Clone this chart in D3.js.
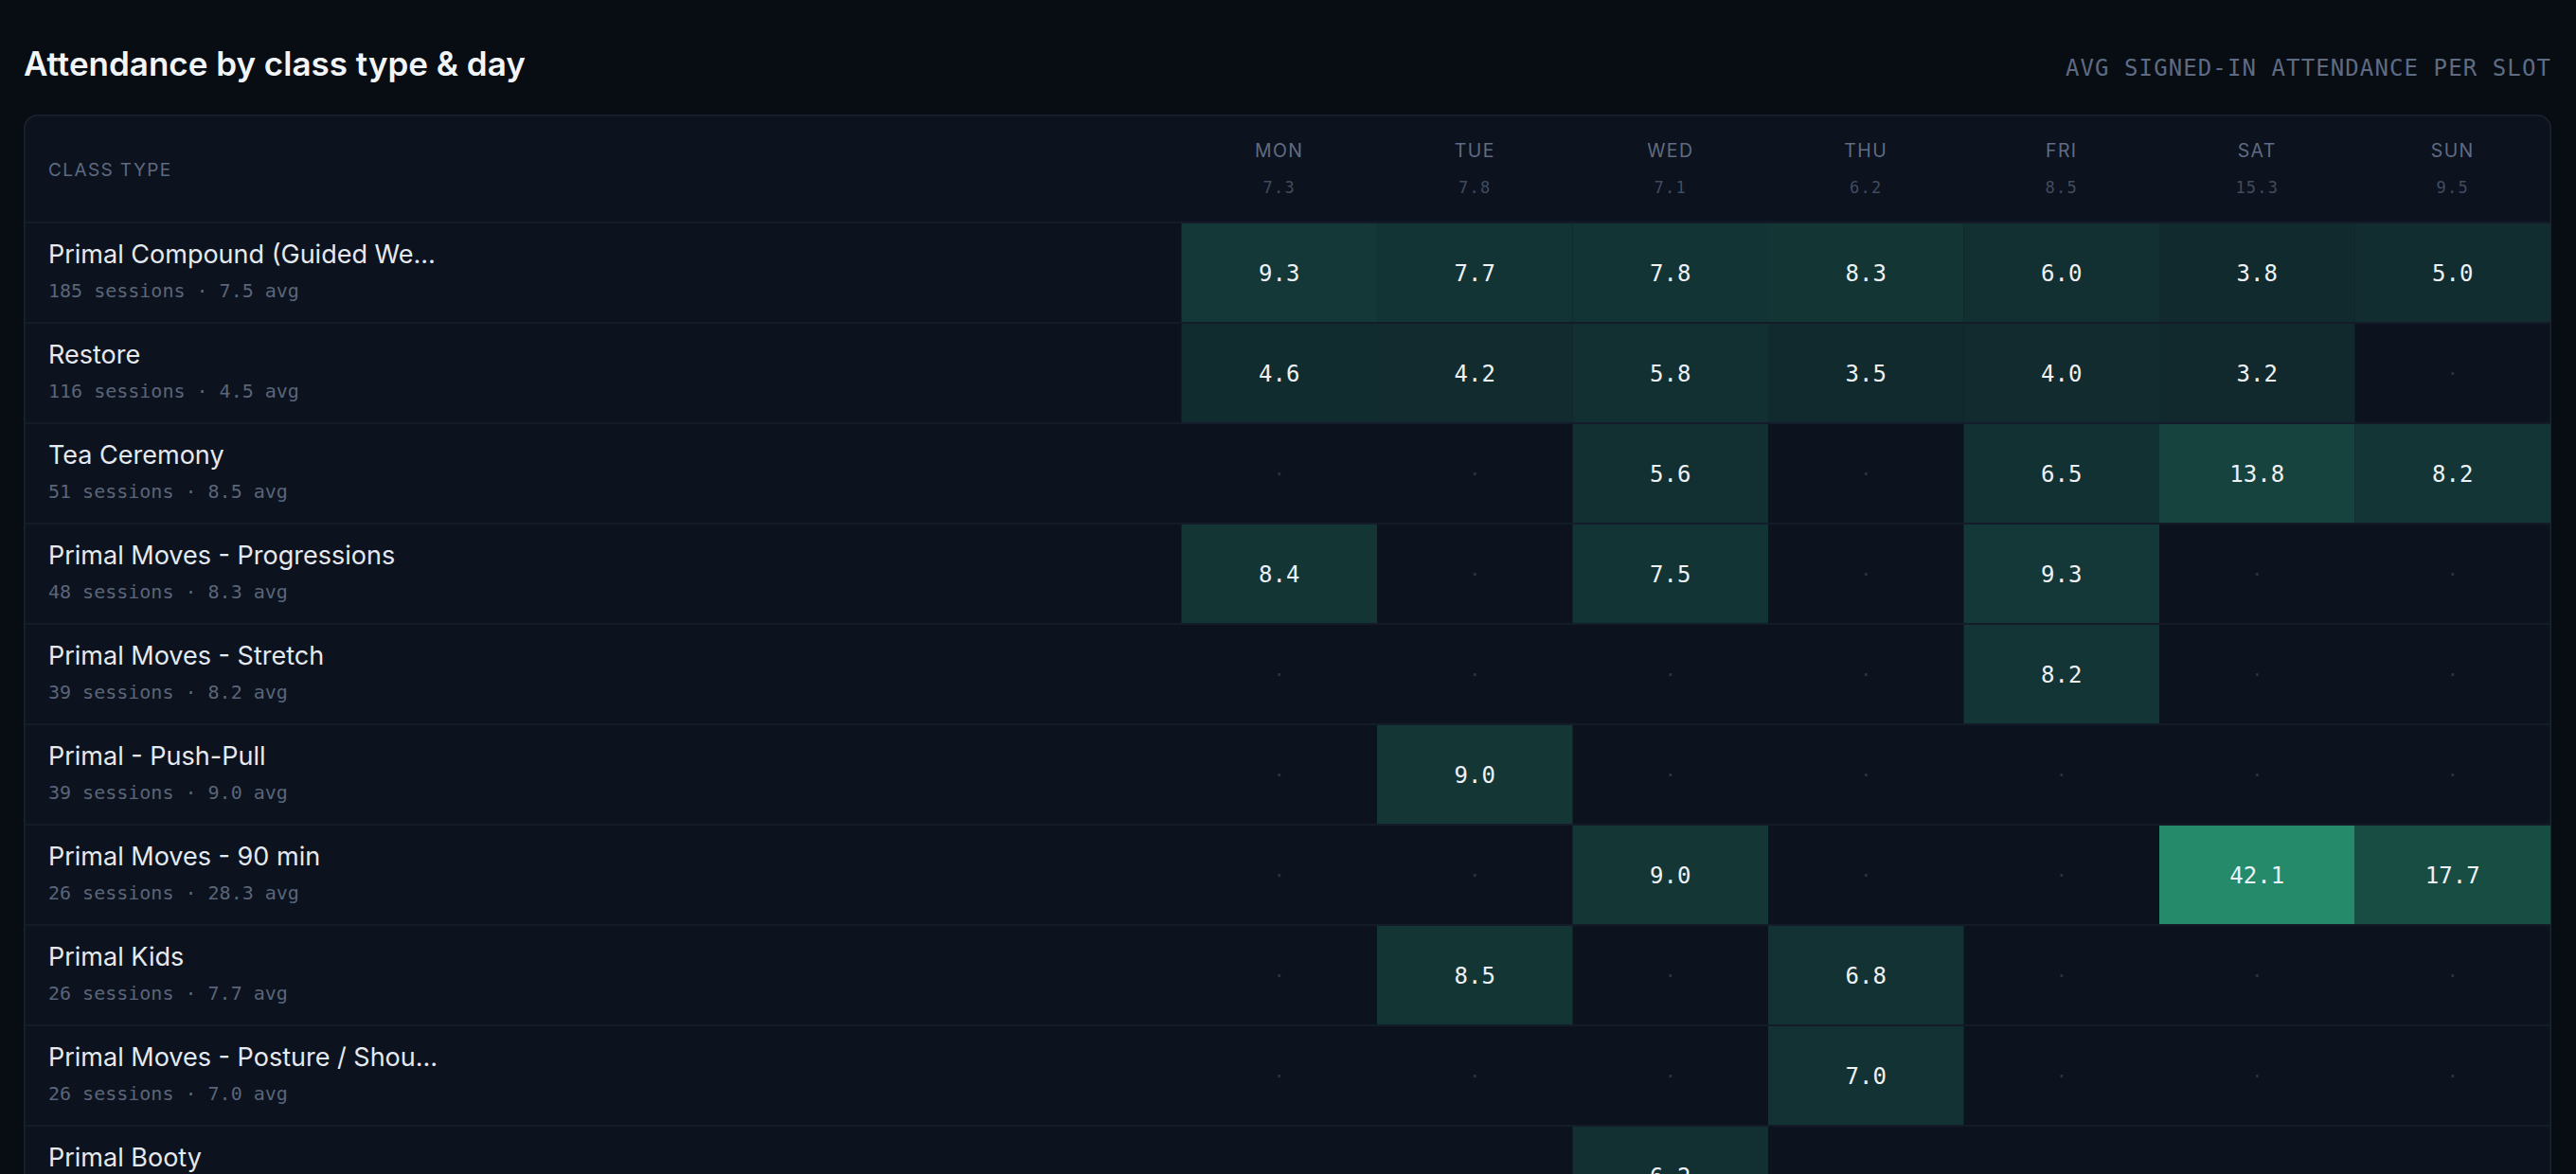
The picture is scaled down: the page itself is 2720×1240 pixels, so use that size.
<!DOCTYPE html>
<html>
<head>
<meta charset="utf-8">
<title>Attendance by class type & day</title>
<script src="https://cdn.jsdelivr.net/npm/d3@7"></script>
<style>
  html, body { margin: 0; padding: 0; background: #080c13; overflow: hidden; }
  svg { display: block; }
</style>
</head>
<body>
<div id="heatmap"></div>
<script>
// data
var days = ['MON', 'TUE', 'WED', 'THU', 'FRI', 'SAT', 'SUN'];
var dayAvg = [7.3, 7.8, 7.1, 6.2, 8.5, 15.3, 9.5];

var classNames = [
	'Primal Compound (Guided We\u2026',
	'Restore',
	'Tea Ceremony',
	'Primal Moves - Progressions',
	'Primal Moves - Stretch',
	'Primal - Push-Pull',
	'Primal Moves - 90 min',
	'Primal Kids',
	'Primal Moves - Posture / Shou\u2026',
	'Primal Booty'
];
var sessions = [185, 116, 51, 48, 39, 39, 26, 26, 26, 24];
var classAvg = [7.5, 4.5, 8.5, 8.3, 8.2, 9.0, 28.3, 7.7, 7.0, 6.2];

// avg attendance per slot, MON..SUN (null = no slot)
var slotValues = [
	[9.3, 7.7, 7.8, 8.3, 6.0, 3.8, 5.0],
	[4.6, 4.2, 5.8, 3.5, 4.0, 3.2, null],
	[null, null, 5.6, null, 6.5, 13.8, 8.2],
	[8.4, null, 7.5, null, 9.3, null, null],
	[null, null, null, null, 8.2, null, null],
	[null, 9.0, null, null, null, null, null],
	[null, null, 9.0, null, null, 42.1, 17.7],
	[null, 8.5, null, 6.8, null, null, null],
	[null, null, null, 7.0, null, null, null],
	[null, null, 6.2, null, null, null, null]
];

var width = 2720,
	height = 1240;

var pageBg = '#080c13',
	cardBg = '#0c121e',
	lineColor = '#141b29',
	accent = '#34d399';

var sans = 'Inter, "Noto Sans", sans-serif',
	mono = '"DejaVu Sans Mono", "Liberation Mono", monospace';

var card = { x: 25, y: 121, right: 2694 };
var headerBottom = 234,
	rowStep = 106,
	rowGap = 2,
	labelX = 51;

var svg = d3.select('#heatmap')
	.append('svg')
	.attr('width', width)
	.attr('height', height);

svg.append('rect')
	.attr('width', width)
	.attr('height', height)
	.attr('fill', pageBg);

// title + subtitle
svg.append('text')
	.text('Attendance by class type & day')
	.attr('x', 25)
	.attr('y', 80)
	.attr('font-family', sans)
	.attr('font-weight', 600)
	.attr('font-size', '35px')
	.attr('fill', '#f1f5f9');

svg.append('text')
	.text('AVG SIGNED-IN ATTENDANCE PER SLOT')
	.attr('x', card.right)
	.attr('y', 80)
	.attr('text-anchor', 'end')
	.attr('font-family', mono)
	.attr('font-size', '24px')
	.attr('letter-spacing', '1.1px')
	.attr('fill', '#5e6b82');

// card
svg.append('rect')
	.attr('x', card.x + 0.75)
	.attr('y', card.y + 0.75)
	.attr('width', card.right - card.x - 1.5)
	.attr('height', 1400)
	.attr('rx', 14)
	.attr('fill', cardBg)
	.attr('stroke', '#1b2332')
	.attr('stroke-width', 1.5);

// scales
var x = d3.scaleBand()
	.domain(days)
	.range([1247.5, card.right - 1])
	.paddingInner(0);

var y = d3.scaleBand()
	.domain(classNames)
	.range([headerBottom + rowGap, headerBottom + rowGap + classNames.length * rowStep - rowGap])
	.paddingInner(rowGap / rowStep)
	.paddingOuter(0);

var maxVal = d3.max(slotValues, function(r) { return d3.max(r); });
var mix = d3.interpolateRgb(cardBg, accent);
var color = d3.scaleLinear()
	.domain([0, maxVal])
	.range([mix(0.08), mix(0.62)]);

// header
var header = svg.append('g').attr('id', 'header');

header.append('text')
	.text('CLASS TYPE')
	.attr('x', labelX)
	.attr('y', 186)
	.attr('font-family', sans)
	.attr('font-size', '19px')
	.attr('letter-spacing', '1.4px')
	.attr('fill', '#5d6a80');

days.forEach(function(day, i) {
	var cx = x(day) + x.bandwidth() / 2;
	header.append('text')
		.text(day)
		.attr('x', cx)
		.attr('y', 166)
		.attr('text-anchor', 'middle')
		.attr('font-family', sans)
		.attr('font-size', '19.5px')
		.attr('letter-spacing', '1.4px')
		.attr('fill', '#5f6c83');
	header.append('text')
		.text(dayAvg[i].toFixed(1))
		.attr('x', cx)
		.attr('y', 204)
		.attr('text-anchor', 'middle')
		.attr('font-family', mono)
		.attr('font-size', '17px')
		.attr('letter-spacing', '1.2px')
		.attr('fill', '#414c5e');
});

// row separators (header bottom + each row)
var seps = svg.append('g').attr('id', 'separators');
seps.append('rect')
	.attr('x', card.x + 1.5)
	.attr('y', headerBottom)
	.attr('width', card.right - card.x - 3)
	.attr('height', rowGap)
	.attr('fill', lineColor);

classNames.forEach(function(name) {
	seps.append('rect')
		.attr('x', card.x + 1.5)
		.attr('y', y(name) + y.bandwidth())
		.attr('width', card.right - card.x - 3)
		.attr('height', rowGap)
		.attr('fill', lineColor);
});

// rows
var rows = svg.append('g').attr('id', 'rows');

classNames.forEach(function(name, r) {
	var top = y(name);

	rows.append('text')
		.text(name)
		.attr('x', labelX)
		.attr('y', top + 41.5)
		.attr('font-family', sans)
		.attr('font-size', '27px')
		.attr('fill', '#e5e9f0');

	rows.append('text')
		.text(sessions[r] + ' sessions \u00b7 ' + classAvg[r].toFixed(1) + ' avg')
		.attr('x', labelX)
		.attr('y', top + 77.5)
		.attr('font-family', mono)
		.attr('font-size', '20px')
		.attr('fill', '#5a6579');

	slotValues[r].forEach(function(v, c) {
		var day = days[c];
		var cx = x(day) + x.bandwidth() / 2;
		var cy = top + y.bandwidth() / 2;

		if (v === null) {
			rows.append('text')
				.text('\u00b7')
				.attr('x', cx)
				.attr('y', cy + 7)
				.attr('text-anchor', 'middle')
				.attr('font-family', mono)
				.attr('font-size', '20px')
				.attr('fill', '#2c3545');
			return;
		}

		rows.append('rect')
			.attr('x', x(day))
			.attr('y', top)
			.attr('width', x.bandwidth())
			.attr('height', y.bandwidth())
			.attr('fill', color(v));

		rows.append('text')
			.text(v.toFixed(1))
			.attr('x', cx)
			.attr('y', cy + 9)
			.attr('text-anchor', 'middle')
			.attr('font-family', mono)
			.attr('font-size', '24px')
			.attr('fill', '#eef2f6');
	});
});
</script>
</body>
</html>
